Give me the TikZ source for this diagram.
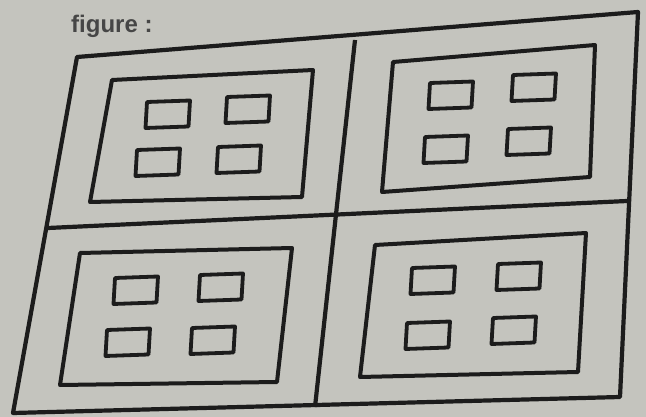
\documentclass[tikz,border=0pt]{standalone}
\usepackage{fontspec}
\setmainfont{Liberation Sans}
\usepackage{tikz}
\usetikzlibrary{calc}
\definecolor{paper}{RGB}{196,196,190}
\definecolor{ink}{RGB}{28,28,28}
\definecolor{caption}{RGB}{70,70,70}
\tikzset{
  frame/.style={draw=ink, line width=4.2pt, line join=round},
  panel/.style={draw=ink, line width=4pt, line join=round},
  cell/.style={draw=ink, line width=3.8pt, line join=round}
}

\begin{document}
\begin{tikzpicture}[x=1pt, y=-1pt]
% Paper
\fill[paper] (0,0) rectangle (646,417);
\useasboundingbox (0,0) rectangle (646,417);
% Caption
\node[font=\fontsize{24}{26}\selectfont\bfseries, color=caption, anchor=base west, inner sep=0pt] (cap) at (71,33) {figure :};
% Outer frame
\coordinate (tl) at (77,57);
\coordinate (tr) at (638,12);
\coordinate (br) at (620,397);
\coordinate (bl) at (13,413);
\draw[frame] (tl) -- (tr) -- (br) -- (bl) -- cycle;
% Dividers
\coordinate (mt) at (355,40);
\coordinate (mb) at (315,407);
\coordinate (ml) at (48,228);
\coordinate (mr) at (627,201);
\draw[frame] (mt) -- (mb);
\draw[frame] (ml) -- (mr);
% Inner panels
\draw[panel] (112,80) -- (313,70) -- (302,197) -- (90,202) -- cycle;
\draw[panel] (393,62) -- (595,45) -- (590,177) -- (382,192) -- cycle;
\draw[panel] (80,253) -- (292,248) -- (277,382) -- (60,385) -- cycle;
\draw[panel] (375,245) -- (586,233) -- (578,372) -- (360,377) -- cycle;
% Small boxes
\foreach \x/\y in {147/102, 227/97, 137/150, 218/147,
                   430/83, 513/75, 425/137, 508/129,
                   115/278, 200/275, 107/330, 192/328,
                   412/268, 498/264, 407/323, 493/318} {
    \draw[cell] (\x,\y) -- ++(43,-1.5) -- ++(-1.5,26) -- ++(-43,1.5) -- cycle;
}
\end{tikzpicture}
\end{document}
